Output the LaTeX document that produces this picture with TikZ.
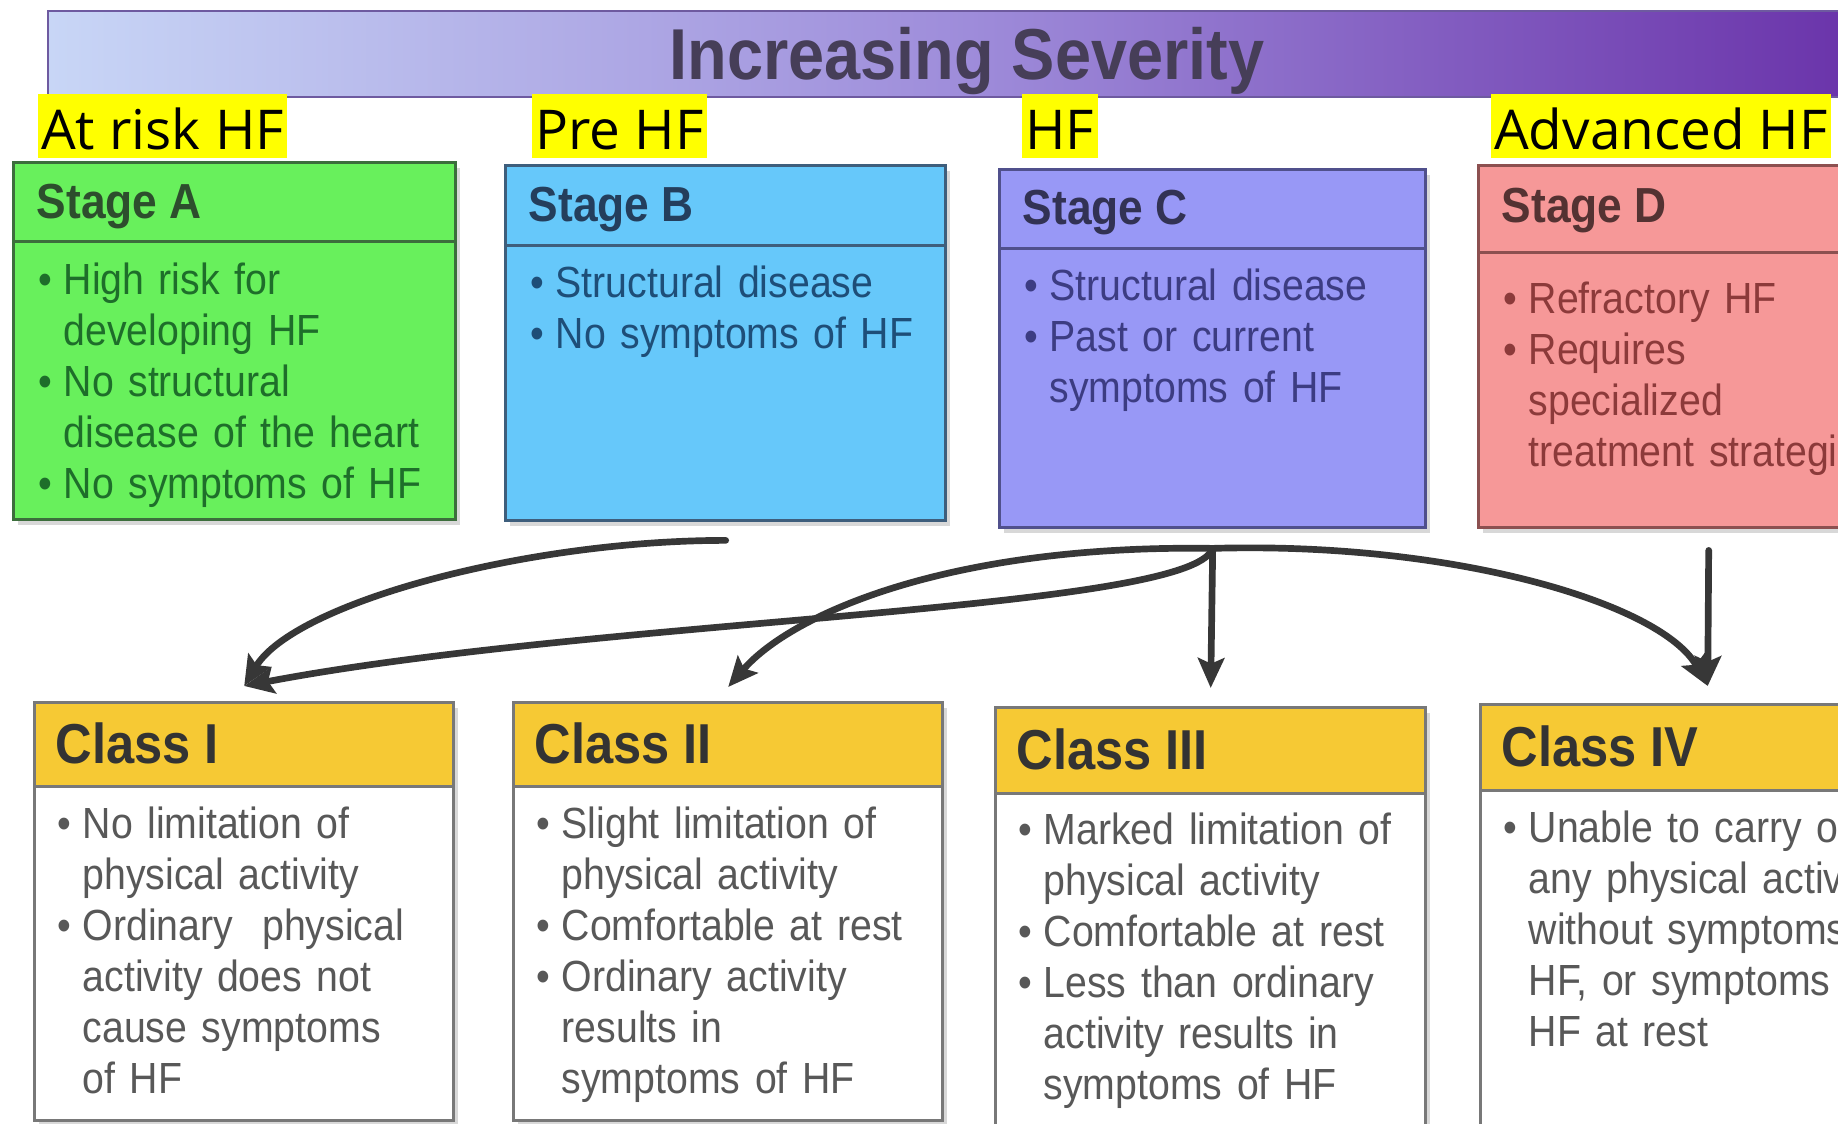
\documentclass[tikz,border=0pt]{standalone}
\usepackage{fontspec}
\setmainfont{Liberation Sans}[FakeStretch=0.9]
\newfontfamily\markfont{Open Sans}
\usetikzlibrary{arrows.meta,shadows}

\definecolor{barL}{RGB}{200,214,246}
\definecolor{barM}{RGB}{158,140,218}
\definecolor{barR}{RGB}{104,48,168}
\definecolor{barline}{RGB}{110,90,160}
\definecolor{titletxt}{RGB}{70,62,88}
\definecolor{hlyellow}{RGB}{255,255,0}
\definecolor{fillA}{RGB}{104,240,92}
\definecolor{lineA}{RGB}{60,110,60}
\definecolor{headA}{RGB}{45,78,45}
\definecolor{textA}{RGB}{30,110,42}
\definecolor{fillB}{RGB}{102,200,250}
\definecolor{lineB}{RGB}{62,94,124}
\definecolor{headB}{RGB}{36,62,92}
\definecolor{textB}{RGB}{30,78,120}
\definecolor{fillC}{RGB}{152,152,246}
\definecolor{lineC}{RGB}{80,80,140}
\definecolor{headC}{RGB}{50,50,84}
\definecolor{textC}{RGB}{60,60,130}
\definecolor{fillD}{RGB}{246,152,152}
\definecolor{lineD}{RGB}{140,80,80}
\definecolor{headD}{RGB}{84,50,50}
\definecolor{textD}{RGB}{140,58,58}
\definecolor{gold}{RGB}{246,201,52}
\definecolor{classline}{RGB}{120,120,120}
\definecolor{clshead}{RGB}{51,51,51}
\definecolor{clsbody}{RGB}{88,88,88}
\definecolor{arrowgray}{RGB}{55,55,55}

\newcommand{\bitem}[1]{\noindent\makebox[0.25cm][l]{\textbullet}#1\par}
\newcommand{\bcont}[1]{\noindent\hspace*{0.25cm}#1\par}

\begin{document}
\begin{tikzpicture}[x=0.01cm,y=0.01cm,
  stagebox/.style={draw, line width=0.9pt, inner sep=0pt, anchor=north west,
    drop shadow={shadow xshift=1.2pt,shadow yshift=-1.5pt,opacity=0.3}},
  headbox/.style={draw, line width=0.9pt, inner sep=0pt, anchor=north west},
  headtext/.style={anchor=base west, inner sep=0pt, font=\fontsize{14}{16}\selectfont\bfseries},
  classtext/.style={anchor=base west, inner sep=0pt, text=clshead, font=\fontsize{16}{18}\selectfont\bfseries},
  bodytext/.style={anchor=north west, inner sep=0pt, text width=6cm, align=left, font=\fontsize{12.4}{14.5}\selectfont},
  stagemark/.style={anchor=base west, fill=hlyellow, inner xsep=1pt, inner ysep=0pt,
    text height=0.56cm, text depth=0.08cm, font=\markfont\fontsize{15.6}{18}\selectfont},
  conn/.style={draw=arrowgray, line width=1.9pt, line cap=round, -{Stealth[length=8.5pt,width=7.5pt,inset=1.6pt]}}]
\useasboundingbox (0,0) rectangle (1838,1123);
\clip (0,0) rectangle (1838,1123);
\fill[white] (0,0) rectangle (1838,1123);

% Severity bar
\node[headbox, draw=barline, line width=0.6pt, left color=barL, right color=barR, middle color=barM,
  minimum width=18.4cm, minimum height=0.86cm] (sevbar) at (47,1113) {};
\node[anchor=base, inner sep=0pt, text=titletxt, font=\fontsize{20.5}{24}\selectfont\bfseries] (sevtitle) at (967,1044) {Increasing Severity};

% Stage labels
\node[stagemark] (mkA) at (37,973) {At risk HF};
\node[stagemark] (mkB) at (531,973) {Pre HF};
\node[stagemark] (mkC) at (1021,973) {HF};
\node[stagemark] (mkD) at (1490,973) {Advanced HF};

% Stage boxes
\node[stagebox, fill=fillA, draw=lineA, minimum width=4.42cm, minimum height=3.57cm] (stA) at (12,962) {};
\node[headbox, fill=fillA, draw=lineA, minimum width=4.42cm, minimum height=0.79cm] (hdA) at (12,962) {};
\node[headtext, text=headA] (tA) at (36,905) {Stage A};
\node[bodytext, text=textA] (bA) at (38,861) {\bitem{High risk for}\bcont{developing HF}\bitem{No structural}\bcont{disease of the heart}\bitem{No symptoms of HF}};

\node[stagebox, fill=fillB, draw=lineB, minimum width=4.40cm, minimum height=3.55cm] (stB) at (504,959) {};
\node[headbox, fill=fillB, draw=lineB, minimum width=4.40cm, minimum height=0.80cm] (hdB) at (504,959) {};
\node[headtext, text=headB] (tB) at (528,902) {Stage B};
\node[bodytext, text=textB] (bB) at (530,858) {\bitem{Structural disease}\bitem{No symptoms of HF}};

\node[stagebox, fill=fillC, draw=lineC, minimum width=4.26cm, minimum height=3.58cm] (stC) at (998,955) {};
\node[headbox, fill=fillC, draw=lineC, minimum width=4.26cm, minimum height=0.79cm] (hdC) at (998,955) {};
\node[headtext, text=headC] (tC) at (1022,898) {Stage C};
\node[bodytext, text=textC] (bC) at (1024,855) {\bitem{Structural disease}\bitem{Past or current}\bcont{symptoms of HF}};

\node[stagebox, fill=fillD, draw=lineD, minimum width=4.60cm, minimum height=3.62cm] (stD) at (1477,959) {};
\node[headbox, fill=fillD, draw=lineD, minimum width=4.60cm, minimum height=0.87cm] (hdD) at (1477,959) {};
\node[headtext, text=headD] (tD) at (1501,900) {Stage D};
\node[bodytext, text=textD] (bD) at (1503,842) {\bitem{Refractory HF}\bitem{Requires}\bcont{specialized}\bcont{treatment strategies}};

% Class boxes
\node[stagebox, fill=white, draw=classline, minimum width=4.19cm, minimum height=4.18cm] (clI) at (33,422) {};
\node[headbox, fill=gold, draw=classline, minimum width=4.19cm, minimum height=0.84cm] (hcI) at (33,422) {};
\node[classtext] (tI) at (55,360) {Class I};
\node[bodytext, text=clsbody] (bI) at (57,317) {\bitem{No limitation of}\bcont{physical activity}\bitem{Ordinary\ \ physical}\bcont{activity does not}\bcont{cause symptoms}\bcont{of HF}};

\node[stagebox, fill=white, draw=classline, minimum width=4.29cm, minimum height=4.18cm] (clII) at (512,422) {};
\node[headbox, fill=gold, draw=classline, minimum width=4.29cm, minimum height=0.84cm] (hcII) at (512,422) {};
\node[classtext] (tII) at (534,360) {Class II};
\node[bodytext, text=clsbody] (bII) at (536,317) {\bitem{Slight limitation of}\bcont{physical activity}\bitem{Comfortable at rest}\bitem{Ordinary activity}\bcont{results in}\bcont{symptoms of HF}};

\node[stagebox, fill=white, draw=classline, minimum width=4.30cm, minimum height=4.40cm] (clIII) at (994,417) {};
\node[headbox, fill=gold, draw=classline, minimum width=4.30cm, minimum height=0.86cm] (hcIII) at (994,417) {};
\node[classtext] (tIII) at (1016,354) {Class III};
\node[bodytext, text=clsbody] (bIII) at (1018,311) {\bitem{Marked limitation of}\bcont{physical activity}\bitem{Comfortable at rest}\bitem{Less than ordinary}\bcont{activity results in}\bcont{symptoms of HF}};

\node[stagebox, fill=white, draw=classline, minimum width=4.54cm, minimum height=4.40cm] (clIV) at (1479,420) {};
\node[headbox, fill=gold, draw=classline, minimum width=4.54cm, minimum height=0.86cm] (hcIV) at (1479,420) {};
\node[classtext] (tIV) at (1501,357) {Class IV};
\node[bodytext, text=clsbody] (bIV) at (1503,313) {\bitem{Unable to carry out}\bcont{any physical activity}\bcont{without symptoms of}\bcont{HF, or symptoms of}\bcont{HF at rest}};

% Arrows from stages to classes
\draw[conn] ([yshift=-0.18cm]stB.south) .. controls +(-200,0) and +(50,83) .. ([yshift=0.15cm]clI.north);
\draw[conn] ([yshift=-0.19cm]stC.south) .. controls +(-21,-63) and +(357,68) .. ([yshift=0.15cm]clI.north);
\draw[conn] ([yshift=-0.19cm]stC.south) .. controls +(-261,4) and +(64,74) .. ([yshift=0.14cm]clII.north);
\draw[conn] ([yshift=-0.19cm]stC.south) -- ([yshift=0.18cm]clIII.north);
\draw[conn] ([yshift=-0.19cm]stC.south) .. controls +(239,7) and +(-46,83) .. ([yshift=0.17cm]clIV.north);
\draw[conn] ([yshift=-0.21cm]stD.south) -- ([yshift=0.17cm]clIV.north);
\end{tikzpicture}
\end{document}
